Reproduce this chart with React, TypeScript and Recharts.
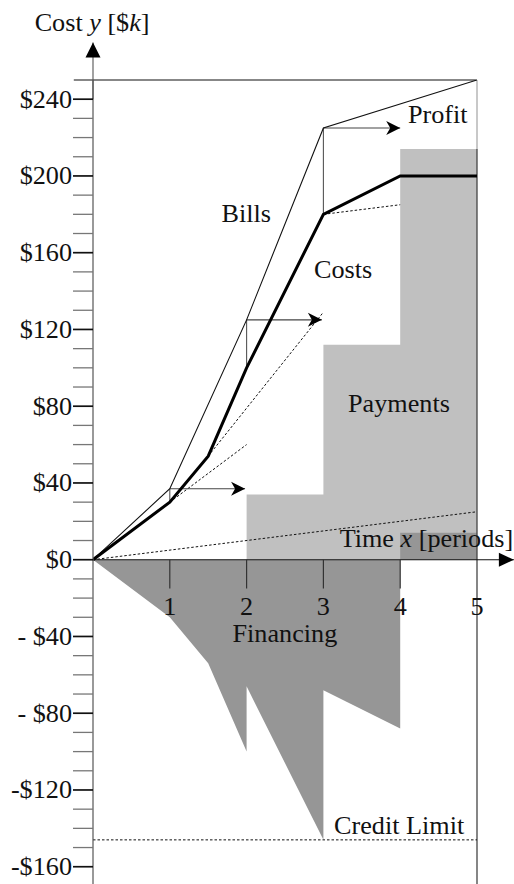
import { ComposedChart, Area, Line, XAxis, YAxis, ReferenceLine, ReferenceDot } from "recharts";

const FONT = '"Liberation Serif", "Times New Roman", serif';
const FS = 26.2;

// cumulative bills and costs ($k) over the periods
const billsX = [0, 1, 2, 3, 5];
const billsY = [0, 37, 125, 225, 250];
const costsX = [0, 1, 1.5, 2, 3, 4, 5];
const costsY = [0, 30, 54, 100, 180, 200, 200];

// payments received (step function, value holds until next period)
const paymentsX = [2, 3, 4, 5];
const paymentsY = [34, 112, 214, 214];

// financing = payments - costs, jumps where a payment arrives
const financingX = [0, 1, 1.5, 2, 2, 3, 3, 4, 4, 5];
const financingY = [0, -30, -54, -100, -66, -146, -68, -88, 14, 14];

// dotted extrapolations
const dotted = [
  { x: [1, 2], y: [30, 60] },
  { x: [1.5, 3], y: [54, 129] },
  { x: [3, 4], y: [180, 185] },
  { x: [0, 5], y: [0, 25] },
];

// markup steps: cost -> bill at each period, then arrow to next period
const stepX = [1, 2, 3];
const stepCost = [30, 100, 180];
const stepBill = [37, 125, 225];
const stepArrowTo = [1.98, 2.98, 4];

const creditLimit = -146;
const topLevel = 250;

const xTicks = [1, 2, 3, 4, 5];
const yTicks = [
  -160, -150, -140, -130, -120, -110, -100, -90, -80, -70, -60, -50, -40, -30, -20, -10,
  0, 10, 20, 30, 40, 50, 60, 70, 80, 90, 100, 110, 120, 130, 140, 150, 160, 170, 180, 190,
  200, 210, 220, 230, 240,
];
const yLabelValues = [-160, -120, -80, -40, 0, 40, 80, 120, 160, 200, 240];
const yLabels = ["-$160", "-$120", "- $80", "- $40", "$0", "$40", "$80", "$120", "$160", "$200", "$240"];

const notes = [
  { x: 4.1, y: 227.4, text: "Profit" },
  { x: 1.674, y: 176.1, text: "Bills" },
  { x: 2.877, y: 146.6, text: "Costs" },
  { x: 3.321, y: 77.1, text: "Payments" },
  { x: 1.817, y: -42.9, text: "Financing" },
  { x: 3.138, y: -142.9, text: "Credit Limit" },
];

const pts = (xs: number[], ys: number[]) => xs.map((x, i) => ({ x, y: ys[i] }));

function head(x: number, y: number, ang: number, len: number, half: number, notch: number) {
  const c = Math.cos(ang);
  const s = Math.sin(ang);
  const p = (u: number, v: number) => `${x + u * c - v * s},${y + u * s + v * c}`;
  return <polygon points={[p(0, 0), p(-len, -half), p(-len + notch, 0), p(-len, half)].join(" ")} fill="#000" />;
}

const arrow = (stroke: string, len: number, half: number, notch: number) => (props: any) => {
  const { x1, y1, x2, y2 } = props;
  const ang = Math.atan2(y2 - y1, x2 - x1);
  return (
    <g>
      <line x1={x1} y1={y1} x2={x2} y2={y2} stroke={stroke} strokeWidth={1.1} />
      {head(x2, y2, ang, len, half, notch)}
    </g>
  );
};

const renderYTick = (props: any) => {
  const { x, y, payload } = props;
  const i = yLabelValues.indexOf(payload.value);
  const major = i >= 0;
  return (
    <g>
      <line x1={x + 1} x2={x + 21} y1={y} y2={y} stroke={major ? "#111" : "#777"} strokeWidth={major ? 1.7 : 1.3} />
      {major && (
        <text x={x} y={y} dy={8.5} textAnchor="end" fontFamily={FONT} fontSize={FS} fill="#111">
          {yLabels[i]}
        </text>
      )}
    </g>
  );
};

const xTickShape = (label: number) => (props: any) => (
  <g>
    {label !== 5 && <line x1={props.x1} y1={props.y1} x2={props.x2} y2={props.y2} stroke="#333" strokeWidth={1.2} />}
    <text x={props.x1} y={props.y1 + 55} textAnchor="middle" fontFamily={FONT} fontSize={FS} fill="#111">
      {label}
    </text>
  </g>
);

const textShape = (text: string, anchor: string = "start") => (props: any) => (
  <text x={props.cx} y={props.cy} textAnchor={anchor} fontFamily={FONT} fontSize={FS} fill="#111">
    {text}
  </text>
);

export default function App() {
  return (
    <div style={{ position: "absolute", left: 0, top: 0 }}>
      <ComposedChart width={514} height={884} margin={{ top: 80, right: 37, bottom: 0, left: 0 }}>
        <XAxis type="number" dataKey="x" domain={[0, 5]} allowDataOverflow hide />
        <YAxis
          type="number"
          domain={[-169, 250]}
          allowDataOverflow
          ticks={yTicks}
          interval={0}
          tick={renderYTick}
          tickLine={false}
          tickSize={20}
          tickMargin={1}
          width={93}
          axisLine={{ stroke: "#555", strokeWidth: 1.2 }}
        />

        <Area
          data={pts(paymentsX, paymentsY)}
          dataKey="y"
          type="stepAfter"
          baseValue={0}
          fill="#c0c0c0"
          fillOpacity={1}
          stroke="none"
          isAnimationActive={false}
        />
        <Area
          data={pts(financingX, financingY)}
          dataKey="y"
          type="linear"
          baseValue={0}
          fill="#969696"
          fillOpacity={1}
          stroke="none"
          isAnimationActive={false}
        />

        {/* top border and right edge */}
        <ReferenceLine segment={[{ x: -0.25, y: topLevel }, { x: 5, y: topLevel }]} stroke="#111" strokeWidth={1.1} ifOverflow="visible" />
        <ReferenceLine segment={[{ x: 5, y: topLevel }, { x: 5, y: paymentsY[3] }]} stroke="#c8c8c8" strokeWidth={2} ifOverflow="visible" />
        <ReferenceLine segment={[{ x: 5, y: paymentsY[3] }, { x: 5, y: -169 }]} stroke="#444" strokeWidth={1.3} ifOverflow="visible" />

        <ReferenceLine
          segment={[{ x: 0, y: creditLimit }, { x: 5, y: creditLimit }]}
          stroke="#111"
          strokeDasharray="2.5 2"
          strokeWidth={1}
          ifOverflow="visible"
        />

        {/* axis arrows */}
        <ReferenceLine segment={[{ x: 0, y: 0 }, { x: 5.48, y: 0 }]} shape={arrow("#111", 15, 7, 0)} ifOverflow="visible" />
        <ReferenceLine segment={[{ x: 0, y: 240 }, { x: 0, y: 269.5 }]} shape={arrow("#555", 15, 7.5, 0)} ifOverflow="visible" />

        {xTicks.map((t) => (
          <ReferenceLine key={`xt-${t}`} segment={[{ x: t, y: 0 }, { x: t, y: -15 }]} shape={xTickShape(t)} ifOverflow="visible" />
        ))}

        {dotted.map((d, i) => (
          <Line
            key={`dot-${i}`}
            data={pts(d.x, d.y)}
            dataKey="y"
            type="linear"
            stroke="#111"
            strokeWidth={1}
            strokeDasharray="2.5 2"
            dot={false}
            activeDot={false}
            isAnimationActive={false}
          />
        ))}

        {stepX.map((x, i) => (
          <ReferenceLine
            key={`conn-${i}`}
            segment={[{ x, y: stepCost[i] }, { x, y: stepBill[i] }]}
            stroke="#555"
            strokeWidth={1.1}
            ifOverflow="visible"
          />
        ))}
        {stepX.map((x, i) => (
          <ReferenceLine
            key={`arr-${i}`}
            segment={[{ x, y: stepBill[i] }, { x: stepArrowTo[i], y: stepBill[i] }]}
            shape={arrow("#444", 14, 7, 4)}
            ifOverflow="visible"
          />
        ))}

        <Line
          data={pts(billsX, billsY)}
          dataKey="y"
          type="linear"
          stroke="#111"
          strokeWidth={1.1}
          dot={false}
          activeDot={false}
          isAnimationActive={false}
        />
        <Line
          data={pts(costsX, costsY)}
          dataKey="y"
          type="linear"
          stroke="#000"
          strokeWidth={3}
          dot={false}
          activeDot={false}
          isAnimationActive={false}
        />

        {notes.map((n) => (
          <ReferenceDot key={n.text} x={n.x} y={n.y} r={0} shape={textShape(n.text)} ifOverflow="visible" />
        ))}
        <ReferenceDot
          x={5.472}
          y={6.6}
          r={0}
          ifOverflow="visible"
          shape={(p: any) => (
            <text x={p.cx} y={p.cy} textAnchor="end" fontFamily={FONT} fontSize={FS} fill="#111">
              Time <tspan fontStyle="italic">x</tspan> [periods]
            </text>
          )}
        />
        <ReferenceDot
          x={-0.76}
          y={275.5}
          r={0}
          ifOverflow="visible"
          shape={(p: any) => (
            <text x={p.cx} y={p.cy} textAnchor="start" fontFamily={FONT} fontSize={FS} fill="#111">
              Cost <tspan fontStyle="italic">y</tspan> [$<tspan fontStyle="italic">k</tspan>]
            </text>
          )}
        />
      </ComposedChart>
    </div>
  );
}
